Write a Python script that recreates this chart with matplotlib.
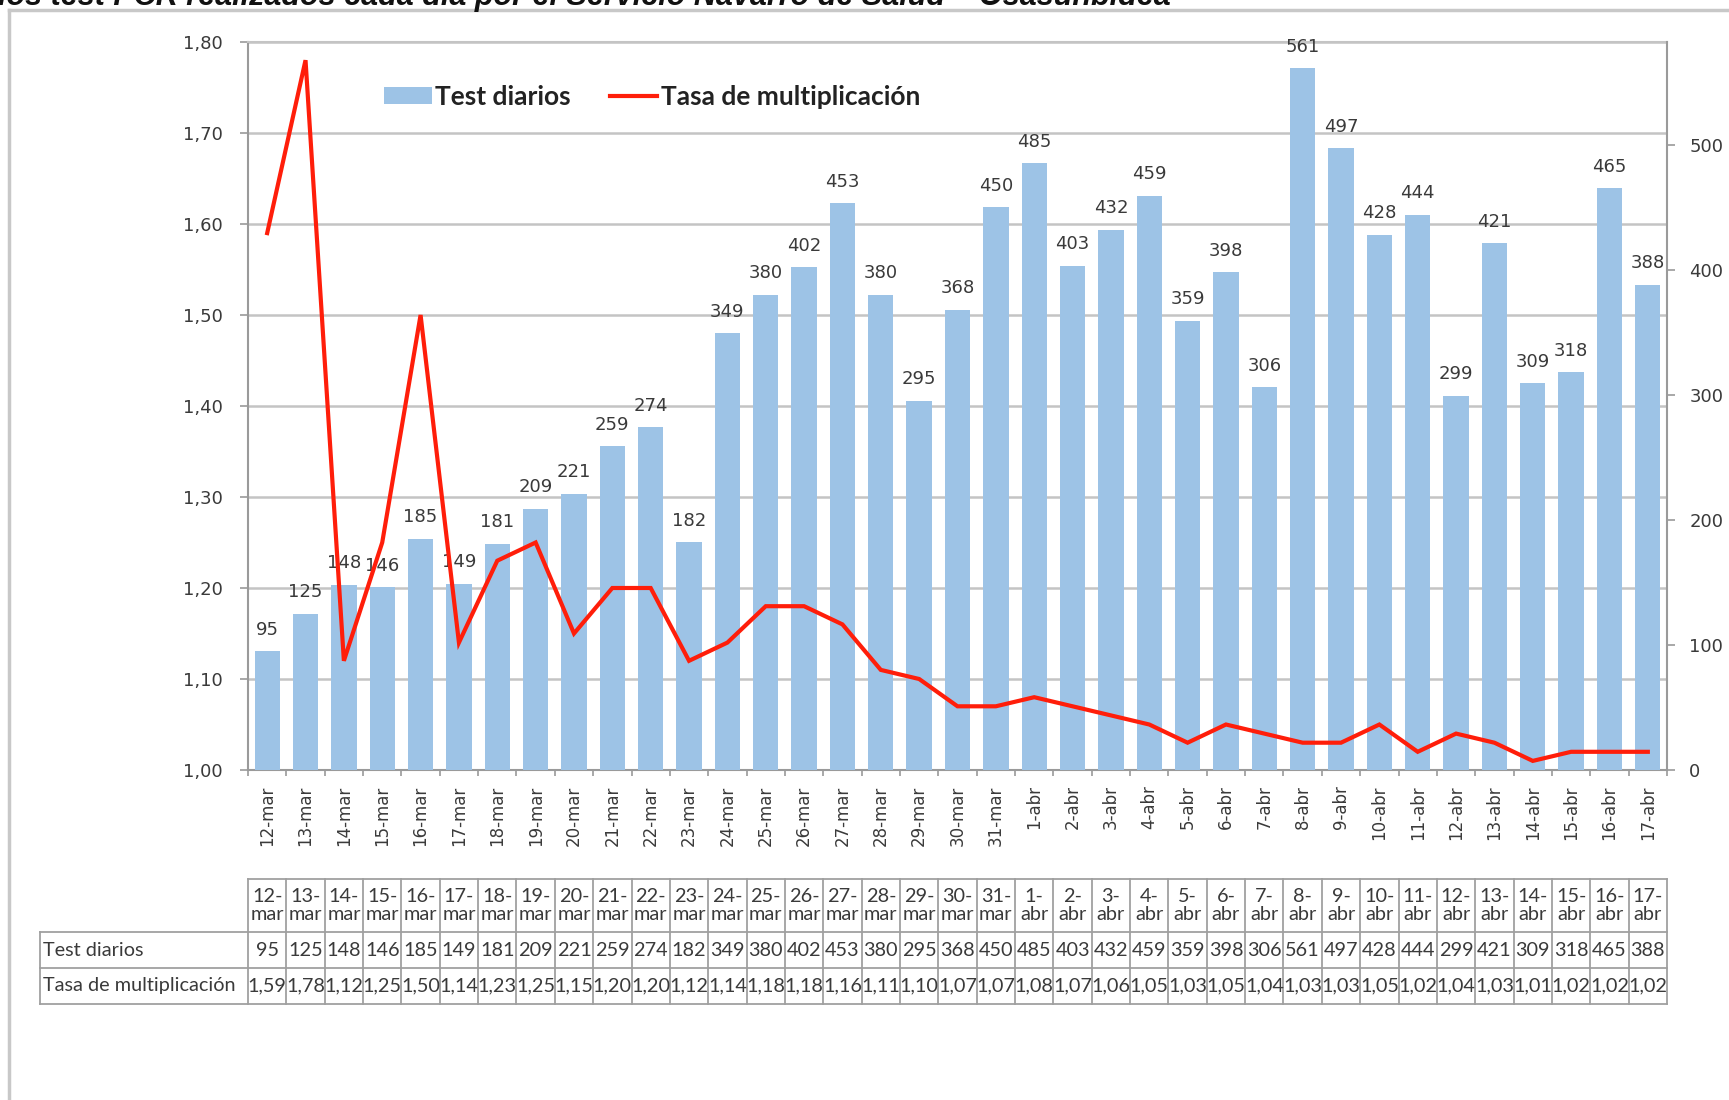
import matplotlib
matplotlib.use('Agg')
import matplotlib.pyplot as plt
from matplotlib.lines import Line2D
from matplotlib.patches import Patch
from matplotlib.ticker import FuncFormatter

fechas = ["12-mar", "13-mar", "14-mar", "15-mar", "16-mar", "17-mar", "18-mar", "19-mar",
          "20-mar", "21-mar", "22-mar", "23-mar", "24-mar", "25-mar", "26-mar", "27-mar",
          "28-mar", "29-mar", "30-mar", "31-mar", "1-abr", "2-abr", "3-abr", "4-abr",
          "5-abr", "6-abr", "7-abr", "8-abr", "9-abr", "10-abr", "11-abr", "12-abr",
          "13-abr", "14-abr", "15-abr", "16-abr", "17-abr"]
test_diarios = [95, 125, 148, 146, 185, 149, 181, 209, 221, 259, 274, 182, 349, 380, 402, 453,
                380, 295, 368, 450, 485, 403, 432, 459, 359, 398, 306, 561, 497, 428, 444, 299,
                421, 309, 318, 465, 388]
tasa = [1.59, 1.78, 1.12, 1.25, 1.50, 1.14, 1.23, 1.25, 1.15, 1.20, 1.20, 1.12, 1.14, 1.18,
        1.18, 1.16, 1.11, 1.10, 1.07, 1.07, 1.08, 1.07, 1.06, 1.05, 1.03, 1.05, 1.04, 1.03,
        1.03, 1.05, 1.02, 1.04, 1.03, 1.01, 1.02, 1.02, 1.02]
left_ticks = [1.00, 1.10, 1.20, 1.30, 1.40, 1.50, 1.60, 1.70, 1.80]
right_ticks = [0, 100, 200, 300, 400, 500]
serie_barras = "Test diarios"
serie_linea = "Tasa de multiplicación"
titulo = "los test PCR realizados cada día por el Servicio Navarro de Salud – Osasunbidea"

W, H = 1729, 1100
BAR = '#9DC3E6'
RED = '#FF1E0A'
GRID = '#C4C4C4'
AXC = '#9A9A9A'
TXT = '#3A3A3A'

fig = plt.figure(figsize=(W / 100, H / 100), dpi=100)


def px(l, t, r, b):
    return [l / W, 1 - b / H, (r - l) / W, (b - t) / H]


def coma(v, pos=None):
    return f"{v:.2f}".replace('.', ',')


n = len(fechas)
x = list(range(n))

ax = fig.add_axes(px(248, 42, 1667, 770))
ax2 = ax.twinx()

# left axis (tasa) with gridlines
ax.set_xlim(-0.5, n - 0.5)
ax.set_ylim(1.0, 1.8)
ax.set_yticks(left_ticks)
ax.yaxis.set_major_formatter(FuncFormatter(coma))
ax.grid(axis='y', color=GRID, linewidth=1.8)
ax.set_axisbelow(True)
ax.tick_params(axis='y', length=6, width=1.2, color=AXC, pad=12, labelsize=13, labelcolor=TXT)
ax.set_xticks(x)
ax.set_xticklabels(fechas, rotation=90, fontsize=12, color=TXT)
ax.set_xticks([i - 0.5 for i in range(n + 1)], minor=True)
ax.tick_params(axis='x', which='major', length=0, pad=11)
ax.tick_params(axis='x', which='minor', length=4.5, width=1.2, color=AXC)
for s in ['left', 'bottom', 'top']:
    ax.spines[s].set_color(AXC)
    ax.spines[s].set_linewidth(1.5)
ax.spines['top'].set_color(GRID)
ax.spines['right'].set_visible(False)

# right axis (tests) with bars
ax2.set_ylim(0, 582)
ax2.set_xlim(-0.5, n - 0.5)
bars = ax2.bar(x, test_diarios, width=0.66, color=BAR, zorder=2)
ax2.bar_label(bars, labels=[str(v) for v in test_diarios], padding=9, fontsize=13, color=TXT)
ax2.set_yticks(right_ticks)
ax2.tick_params(axis='y', length=6, width=1.2, color=AXC, pad=10, labelsize=13, labelcolor=TXT)
for s in ['left', 'bottom', 'top']:
    ax2.spines[s].set_visible(False)
ax2.spines['right'].set_color(AXC)
ax2.spines['right'].set_linewidth(1.5)

# line drawn above bars, in the left-axis scale
ln = Line2D(x, tasa, color=RED, linewidth=3, transform=ax.transData, zorder=3,
            solid_joinstyle='miter')
ax2.add_line(ln)

# legend
fig.legend(handles=[Patch(facecolor=BAR, edgecolor='none'),
                    Line2D([], [], color=RED, linewidth=3)],
           labels=[serie_barras, serie_linea], ncol=2, loc='center left',
           bbox_to_anchor=(384 / W, 1 - 97 / H), frameon=False,
           prop=dict(family='Lato', weight='bold', size=19),
           handlelength=1.8, handleheight=0.6, handletextpad=0.12, columnspacing=1.5,
           borderpad=0, borderaxespad=0, labelcolor='#222222')

# title, clipped at the top edge as in the source
fig.text(-2 / W, 1 - 5 / H, titulo, family='Liberation Sans', weight='bold', style='italic',
         size=22, va='baseline', ha='left', color='#111111')

# outer frame
fig.add_artist(Line2D([9 / W, 9 / W], [0, 1 - 10 / H], color='#C8C8C8', linewidth=2.5,
                      transform=fig.transFigure))
fig.add_artist(Line2D([9 / W, 1], [1 - 10 / H, 1 - 10 / H], color='#C8C8C8', linewidth=2.5,
                      transform=fig.transFigure))

# data table
colw = (1667 - 248) / n
lab = (248 - 40) / colw
xl = -0.5 - lab
tax = fig.add_axes(px(40, 879, 1667, 1004))
tax.set_xlim(xl, n - 0.5)
tax.set_ylim(125, 0)
tax.axis('off')
TC = '#A0A0A0'
rows = [0, 53, 89, 125]
lw = 1.3
tax.plot([-0.5, n - 0.5], [rows[0], rows[0]], color=TC, lw=lw, clip_on=False)
for yb in rows[1:]:
    tax.plot([xl, n - 0.5], [yb, yb], color=TC, lw=lw, clip_on=False)
for k in range(n + 1):
    tax.plot([k - 0.5, k - 0.5], [rows[0], rows[-1]], color=TC, lw=lw, clip_on=False)
tax.plot([xl, xl], [rows[1], rows[-1]], color=TC, lw=lw, clip_on=False)

tfont = dict(family='Lato', size=14.3, color=TXT)
for i in range(n):
    d, m = fechas[i].split('-')
    tax.text(i, (rows[0] + rows[1]) / 2, f"{d}-\n{m}", ha='center', va='center',
             linespacing=1.1, **tfont)
    tax.text(i, (rows[1] + rows[2]) / 2, str(test_diarios[i]), ha='center', va='center', **tfont)
    tax.text(i, (rows[2] + rows[3]) / 2, coma(tasa[i]), ha='center', va='center', **tfont)
tax.text(xl + 0.08, (rows[1] + rows[2]) / 2, serie_barras, ha='left', va='center', **tfont)
tax.text(xl + 0.08, (rows[2] + rows[3]) / 2, serie_linea, ha='left', va='center', **tfont)

fig.savefig('out.png', dpi=100)
